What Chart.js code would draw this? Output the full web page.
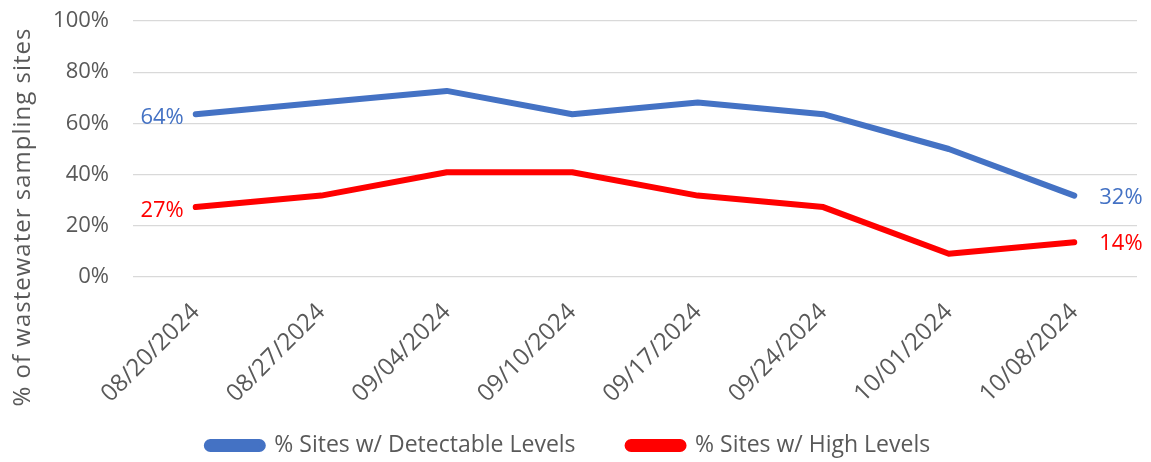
<!DOCTYPE html>
<html>
<head>
<meta charset="utf-8">
<script src="https://cdn.jsdelivr.net/npm/chart.js@4/dist/chart.umd.min.js"></script>
<style>
html,body{margin:0;padding:0;background:#fff;}
#wrap{width:1151px;height:462px;position:relative;}
</style>
</head>
<body>
<div id="wrap"><canvas id="c" width="1151" height="462"></canvas></div>
<script>
const categories = ["08/20/2024","08/27/2024","09/04/2024","09/10/2024","09/17/2024","09/24/2024","10/01/2024","10/08/2024"];
const detectable = [63.6, 68.2, 72.7, 63.6, 68.2, 63.6, 50.0, 31.8];
const high = [27.3, 31.8, 40.9, 40.9, 31.8, 27.3, 9.1, 13.6];
const seriesNames = ["% Sites w/ Detectable Levels", "% Sites w/ High Levels"];
const yTicks = [0, 20, 40, 60, 80, 100];
const yTitle = "% of wastewater sampling sites";

const FONT = "'Open Sans', sans-serif";
const GREY = "#595959";
const BLUE = "#4472C4";
const RED = "#FF0000";

const endLabels = {
  id: 'endLabels',
  afterDatasetsDraw(chart) {
    const ctx = chart.ctx;
    ctx.save();
    ctx.font = "22px " + FONT;
    ctx.textBaseline = 'middle';
    chart.data.datasets.forEach((ds, i) => {
      const meta = chart.getDatasetMeta(i);
      const first = meta.data[0], last = meta.data[meta.data.length - 1];
      ctx.fillStyle = ds.borderColor;
      ctx.textAlign = 'right';
      ctx.fillText(Math.round(ds.data[0]) + '%', first.x - 12, first.y + 4);
      ctx.textAlign = 'left';
      ctx.fillText(Math.round(ds.data[ds.data.length - 1]) + '%', last.x + 25, last.y + 2);
    });
    ctx.restore();
  }
};

const yTitlePlugin = {
  id: 'yTitlePlugin',
  afterDraw(chart) {
    const ctx = chart.ctx;
    ctx.save();
    ctx.translate(23, 217);
    ctx.rotate(-Math.PI / 2);
    ctx.font = "24px " + FONT;
    if ('letterSpacing' in ctx) ctx.letterSpacing = '1px';
    ctx.fillStyle = GREY;
    ctx.textAlign = 'center';
    ctx.textBaseline = 'middle';
    ctx.fillText(yTitle, 0, 0);
    ctx.restore();
  }
};

new Chart(document.getElementById('c'), {
  type: 'line',
  data: {
    labels: categories,
    datasets: [
      { label: seriesNames[0], data: detectable, borderColor: BLUE, backgroundColor: BLUE, borderWidth: 6, pointRadius: 0, pointHoverRadius: 0, tension: 0, borderCapStyle: 'round', borderJoinStyle: 'round' },
      { label: seriesNames[1], data: high, borderColor: RED, backgroundColor: RED, borderWidth: 6, pointRadius: 0, pointHoverRadius: 0, tension: 0, borderCapStyle: 'round', borderJoinStyle: 'round' }
    ]
  },
  options: {
    responsive: false,
    animation: false,
    layout: { padding: { left: 0, right: 14, top: 21, bottom: -5 } },
    plugins: {
      tooltip: { enabled: false },
      legend: {
        position: 'bottom',
        labels: {
          boxWidth: 56, boxHeight: 7, padding: 52,
          color: GREY,
          font: { family: FONT, size: 23 },
          useBorderRadius: true, borderRadius: 3.5
        }
      }
    },
    scales: {
      x: {
        offset: true,
        afterFit(scale) { scale.height = 105; scale._computeLabelArea = () => undefined; },
        grid: { display: false, drawTicks: false },
        border: { display: false },
        ticks: {
          color: GREY, font: { family: FONT, size: 24 },
          maxRotation: 45, minRotation: 45, padding: 21, autoSkip: false
        }
      },
      y: {
        min: 0, max: 100,
        afterFit(scale) { scale.width = 133; scale.paddingTop = 0; scale.paddingBottom = 0; },
        afterBuildTicks(scale) { scale.ticks = yTicks.map(v => ({ value: v })); },
        grid: { color: '#D9D9D9', lineWidth: 1.3, drawTicks: false },
        border: { display: false },
        ticks: {
          color: GREY, font: { family: FONT, size: 22 }, padding: 24,
          callback: v => v + '%'
        }
      }
    }
  },
  plugins: [endLabels, yTitlePlugin]
});
</script>
</body>
</html>
